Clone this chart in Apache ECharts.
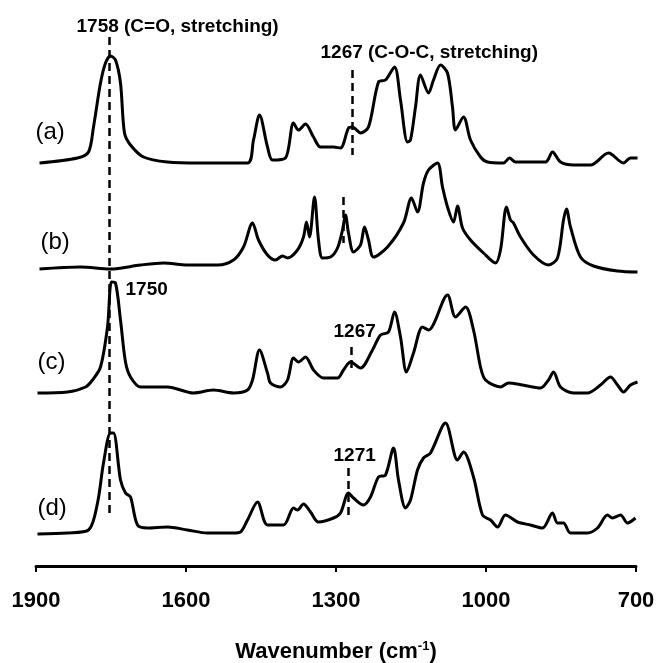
<!DOCTYPE html>
<html>
<head>
<meta charset="utf-8">
<script src="https://cdn.jsdelivr.net/npm/echarts@6/dist/echarts.min.js"></script>
<style>
  html, body { margin: 0; padding: 0; background: #fff; overflow: hidden; }
  #chart { width: 658px; height: 663px; }
</style>
</head>
<body>
<div id="chart"></div>
<script>
// wavenumber (cm-1) / relative absorbance
var traceA = [[1893,0],[1817,5],[1795,11],[1785,36],[1771,80],[1761,100],[1751,107],[1741,103],[1731,80],[1723,30],[1711,18],[1685,6],[1637,1],[1571,0],[1477,0],[1465,23],[1453,48],[1437,16],[1427,3],[1401,5],[1385,40],[1375,33],[1361,39],[1345,26],[1331,16],[1305,16],[1291,15],[1275,35],[1267,36],[1251,30],[1235,36],[1215,81],[1201,83],[1183,96],[1171,63],[1157,21],[1151,23],[1141,56],[1131,88],[1115,70],[1105,83],[1091,98],[1077,90],[1067,56],[1061,33],[1045,46],[1031,23],[1011,6],[997,1],[965,0],[953,5],[941,1],[881,1],[867,11],[851,1],[825,-2],[791,-2],[755,10],[725,0],[711,5],[697,5]];
var traceB = [[1893,0],[1811,2],[1751,0],[1691,4],[1645,6],[1597,4],[1537,4],[1505,9],[1485,22],[1467,46],[1455,29],[1437,14],[1421,9],[1407,13],[1397,11],[1377,19],[1365,32],[1359,47],[1353,32],[1343,72],[1335,29],[1327,11],[1311,12],[1297,21],[1287,39],[1281,54],[1275,36],[1265,17],[1251,24],[1243,42],[1235,29],[1225,12],[1197,22],[1165,46],[1149,71],[1137,57],[1125,86],[1115,99],[1097,106],[1087,82],[1077,62],[1065,47],[1057,63],[1047,41],[1031,29],[1005,16],[981,6],[971,19],[959,62],[951,49],[945,46],[931,32],[905,14],[875,4],[857,11],[845,49],[839,60],[831,42],[811,12],[785,3],[737,-2],[697,-3]];
var traceC = [[1897,-3],[1837,-2],[1801,3],[1787,10],[1771,23],[1757,63],[1749,108],[1741,107],[1731,70],[1721,28],[1711,13],[1691,3],[1637,3],[1585,-3],[1545,0],[1505,-3],[1477,0],[1467,10],[1453,40],[1437,17],[1431,7],[1411,3],[1397,10],[1385,32],[1375,28],[1361,33],[1345,20],[1325,12],[1297,12],[1285,20],[1271,28],[1251,22],[1227,40],[1211,55],[1195,58],[1183,78],[1171,53],[1159,18],[1145,37],[1127,63],[1115,60],[1077,95],[1061,73],[1041,83],[1025,60],[1011,23],[1001,10],[971,3],[955,7],[927,5],[891,2],[875,10],[865,18],[851,3],[825,-3],[797,-3],[771,5],[751,13],[737,5],[725,-2],[711,5],[697,8]];
var traceD = [[1897,-1],[1837,0],[1795,3],[1777,30],[1765,70],[1751,100],[1745,100],[1731,53],[1721,40],[1711,36],[1697,8],[1677,5],[1637,6],[1597,3],[1557,0],[1505,0],[1491,1],[1477,13],[1457,31],[1437,8],[1405,8],[1385,25],[1377,23],[1365,29],[1351,21],[1335,11],[1305,15],[1291,20],[1275,40],[1265,35],[1245,28],[1231,36],[1215,56],[1201,58],[1185,85],[1175,53],[1161,25],[1151,33],[1137,63],[1125,75],[1111,80],[1081,110],[1057,73],[1045,81],[1025,56],[1007,18],[991,13],[977,6],[961,18],[937,11],[911,8],[887,5],[867,20],[857,10],[845,10],[831,0],[797,0],[777,5],[757,18],[747,15],[731,18],[717,10],[701,15]];

var traceNames = ['(a)', '(b)', '(c)', '(d)'];
var offsets = [403, 297, 176, 33];
var xTicks = [1900, 1600, 1300, 1000, 700];

// dashed marker lines: [wavenumber, y from, y to]
var markers = [[1753, 529, 49], [1267, 496, 411], [1285, 369, 323], [1269, 219, 193], [1275, 98, 49]];
// annotation texts: [text, wavenumber, y]
var notes = [['1758 (C=O, stretching)', 1819, 539], ['1267 (C-O-C, stretching)', 1331, 513], ['1750', 1721, 276], ['1267', 1305, 234], ['1271', 1305, 110]];
var nameSpots = [[1901, 434], [1891, 324], [1897, 204], [1897, 58]];

var traces = [traceA, traceB, traceC, traceD];
var chart = echarts.init(document.getElementById('chart'));

var series = traces.map(function (t, i) {
  return {
    type: 'line',
    name: traceNames[i],
    data: t.map(function (p) { return [p[0], p[1] + offsets[i]]; }),
    smooth: 0.3,
    showSymbol: false,
    lineStyle: { color: '#000', width: 3 },
    z: 3
  };
});
series[0].markLine = {
  silent: true,
  symbol: 'none',
  label: { show: false },
  lineStyle: { color: '#000', width: 2.5, type: [8, 5] },
  data: markers.map(function (m) { return [{ coord: [m[0], m[1]] }, { coord: [m[0], m[2]] }]; })
};

chart.setOption({
  animation: false,
  backgroundColor: '#fff',
  grid: { left: 36, right: 22, top: 20, bottom: 97, outerBoundsMode: 'none' },
  xAxis: {
    type: 'value',
    inverse: true,
    min: 700,
    max: 1900,
    interval: 300,
    splitLine: { show: false },
    axisLine: { lineStyle: { color: '#000', width: 3 } },
    axisTick: { length: 6, lineStyle: { color: '#000', width: 2 } },
    axisLabel: {
      margin: 24,
      color: '#000',
      fontFamily: 'Liberation Sans, Arial, sans-serif',
      fontWeight: 'bold',
      fontSize: 22,
      formatter: function (v) { return xTicks.indexOf(v) >= 0 ? String(v) : ''; }
    },
    name: '{t|Wavenumber (cm}{s|-1}{t|)}',
    nameLocation: 'middle',
    nameGap: 74,
    nameTextStyle: {
      rich: {
        t: { fontFamily: 'Liberation Sans, Arial, sans-serif', fontWeight: 'bold', fontSize: 22, color: '#000' },
        s: { fontFamily: 'Liberation Sans, Arial, sans-serif', fontWeight: 'bold', fontSize: 13, color: '#000', padding: [0, 0, 10, 0] }
      }
    }
  },
  yAxis: { type: 'value', min: 0, max: 546, show: false },
  series: series
});

var graphics = [];
notes.forEach(function (n) {
  var p = chart.convertToPixel({ gridIndex: 0 }, [n[1], n[2]]);
  graphics.push({
    type: 'text', x: p[0], y: p[1],
    style: { text: n[0], fill: '#000', font: 'bold 19px "Liberation Sans", Arial, sans-serif', textAlign: 'left', textVerticalAlign: 'middle' }
  });
});
nameSpots.forEach(function (s, i) {
  var p = chart.convertToPixel({ gridIndex: 0 }, s);
  graphics.push({
    type: 'text', x: p[0], y: p[1],
    style: { text: traceNames[i], fill: '#000', font: '24px "Liberation Sans", Arial, sans-serif', textAlign: 'left', textVerticalAlign: 'middle' }
  });
});
chart.setOption({ graphic: graphics });
</script>
</body>
</html>
